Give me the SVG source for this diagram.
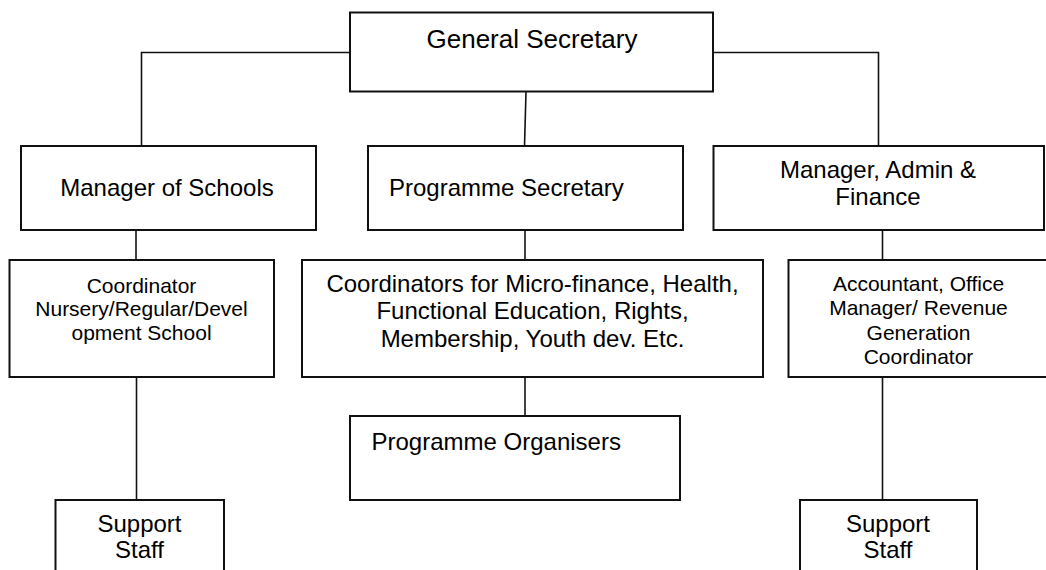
<svg xmlns="http://www.w3.org/2000/svg" width="1046" height="570" viewBox="0 0 1046 570">
  <style>
    .box { fill: #ffffff; stroke: #111111; stroke-width: 2; }
    .link { fill: none; stroke: #111111; stroke-width: 1.6; }
    .t { font-family: "Liberation Sans", Arial, sans-serif; fill: #000000; }
    .top { font-size: 26px; }
    .big { font-size: 24px; }
    .small { font-size: 21px; }
    .c { text-anchor: middle; }
  </style>
  <rect width="1046" height="570" fill="#ffffff"/>

  <!-- reporting lines -->
  <g id="connectors">
    <path class="link" d="M350,52.5 H141.5 V146"/>
    <path class="link" d="M713,52.5 H878.5 V146"/>
    <path class="link" d="M526,92 L524.5,146"/>
    <path class="link" d="M136,230 V260"/>
    <path class="link" d="M136.5,377 V500"/>
    <path class="link" d="M525,230 V260"/>
    <path class="link" d="M525,377 V416"/>
    <path class="link" d="M882.5,230 V260"/>
    <path class="link" d="M882.5,377 V500"/>
  </g>

  <g id="general-secretary">
    <rect class="box" x="350" y="12.5" width="363" height="79"/>
    <text class="t top c" x="532" y="47.5">General Secretary</text>
  </g>

  <g id="manager-of-schools">
    <rect class="box" x="21" y="146" width="295" height="84"/>
    <text class="t big c" x="167" y="196">Manager of Schools</text>
  </g>

  <g id="programme-secretary">
    <rect class="box" x="368" y="146" width="315" height="84"/>
    <text class="t big" x="389" y="196">Programme Secretary</text>
  </g>

  <g id="manager-admin-finance">
    <rect class="box" x="713.5" y="146" width="330.5" height="84"/>
    <text class="t big c" x="878" y="178">Manager, Admin &amp;</text>
    <text class="t big c" x="878" y="205">Finance</text>
  </g>

  <g id="school-coordinator">
    <rect class="box" x="9.5" y="260" width="264.5" height="117"/>
    <text class="t small c" x="141.5" y="292.5">Coordinator</text>
    <text class="t small c" x="141.5" y="316">Nursery/Regular/Devel</text>
    <text class="t small c" x="141.5" y="339.5">opment School</text>
  </g>

  <g id="programme-coordinators">
    <rect class="box" x="302" y="260" width="461" height="117"/>
    <text class="t big c" x="532.5" y="291.5">Coordinators for Micro-finance, Health,</text>
    <text class="t big c" x="532.5" y="319">Functional Education, Rights,</text>
    <text class="t big c" x="532.5" y="346.5">Membership, Youth dev. Etc.</text>
  </g>

  <g id="accounts-office">
    <rect class="box" x="788.5" y="260" width="262" height="117"/>
    <text class="t small c" x="918.5" y="290.7">Accountant, Office</text>
    <text class="t small c" x="918.5" y="315.1">Manager/ Revenue</text>
    <text class="t small c" x="918.5" y="339.5">Generation</text>
    <text class="t small c" x="918.5" y="363.9">Coordinator</text>
  </g>

  <g id="programme-organisers">
    <rect class="box" x="350" y="416" width="330" height="84"/>
    <text class="t big" x="371.5" y="450">Programme Organisers</text>
  </g>

  <g id="support-staff-schools">
    <rect class="box" x="55.5" y="500" width="168.5" height="80"/>
    <text class="t big c" x="139.5" y="531.7">Support</text>
    <text class="t big c" x="139.5" y="558.3">Staff</text>
  </g>

  <g id="support-staff-admin">
    <rect class="box" x="800" y="500" width="177" height="80"/>
    <text class="t big c" x="888" y="531.7">Support</text>
    <text class="t big c" x="888" y="558.3">Staff</text>
  </g>
</svg>
